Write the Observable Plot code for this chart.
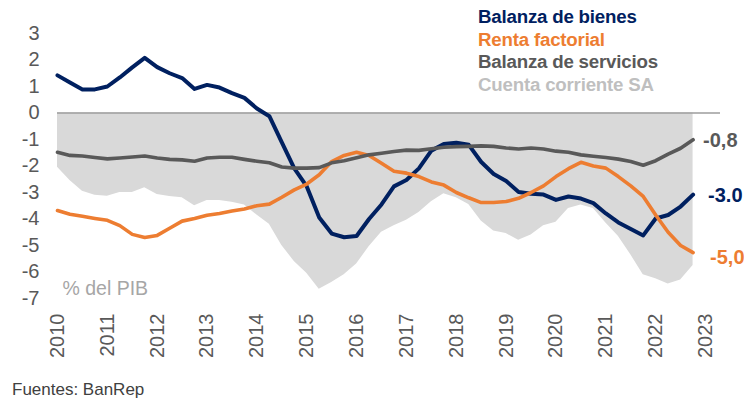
<!DOCTYPE html>
<html>
<head>
<meta charset="utf-8">
<script src="https://cdn.jsdelivr.net/npm/d3@7"></script>
<script src="https://cdn.jsdelivr.net/npm/@observablehq/plot@0.6"></script>
<style>
  html, body { margin: 0; padding: 0; background: #fff; }
  #wrap { position: relative; width: 744px; height: 400px; overflow: hidden; font-family: "Liberation Sans", Arial, sans-serif; }
  #legend { position: absolute; left: 478px; top: 6px; font-weight: bold; font-size: 18.7px; line-height: 22.6px; letter-spacing: -0.2px; }
  #caption { position: absolute; left: 12px; top: 380px; font-size: 17px; color: #404040; }
  #chart { position: absolute; left: 0; top: 0; }
</style>
</head>
<body>
<div id="wrap">
  <div id="chart"></div>
  <div id="legend"></div>
  <div id="caption">Fuentes: BanRep</div>
</div>
<script>
// Quarterly data, 2010 Q1 – 2022 Q4 (% del PIB)
const startYear = 2010;
const yearTicks = [2010, 2011, 2012, 2013, 2014, 2015, 2016, 2017, 2018, 2019, 2020, 2021, 2022, 2023];
const yTicks = [3, 2, 1, 0, -1, -2, -3, -4, -5, -6, -7];

const seriesNames = ["Balanza de bienes", "Renta factorial", "Balanza de servicios", "Cuenta corriente SA"];
const seriesColors = ["#002060", "#ED7D31", "#595959", "#BFBFBF"];

const bienes = [1.42,1.15,0.89,0.89,1.0,1.34,1.72,2.08,1.73,1.5,
  1.32,0.91,1.06,0.96,0.75,0.57,0.17,-0.12,-1.11,-2.09,
  -2.77,-3.94,-4.55,-4.69,-4.64,-4.0,-3.45,-2.77,-2.53,-2.09,
  -1.42,-1.17,-1.12,-1.2,-1.85,-2.3,-2.57,-2.98,-3.05,-3.08,
  -3.28,-3.15,-3.23,-3.4,-3.79,-4.13,-4.38,-4.62,-3.98,-3.85,
  -3.53,-3.08];
const renta = [-3.68,-3.82,-3.9,-3.98,-4.05,-4.25,-4.58,-4.7,-4.62,-4.35,
  -4.08,-3.98,-3.86,-3.79,-3.7,-3.62,-3.5,-3.44,-3.18,-2.9,
  -2.68,-2.33,-1.83,-1.6,-1.48,-1.6,-1.9,-2.2,-2.27,-2.4,
  -2.6,-2.72,-3.0,-3.2,-3.38,-3.38,-3.34,-3.22,-3.0,-2.75,
  -2.4,-2.1,-1.86,-2.0,-2.08,-2.4,-2.75,-3.15,-3.85,-4.5,
  -5.0,-5.27];
const servicios = [-1.48,-1.6,-1.62,-1.68,-1.73,-1.7,-1.66,-1.62,-1.7,-1.75,
  -1.77,-1.82,-1.7,-1.67,-1.67,-1.75,-1.82,-1.88,-2.04,-2.08,
  -2.08,-2.06,-1.88,-1.8,-1.69,-1.58,-1.52,-1.45,-1.4,-1.41,
  -1.35,-1.29,-1.27,-1.26,-1.24,-1.26,-1.32,-1.36,-1.32,-1.36,
  -1.44,-1.48,-1.58,-1.63,-1.68,-1.74,-1.83,-1.97,-1.8,-1.55,
  -1.33,-1.01];
const cuenta = [-2.05,-2.55,-2.95,-3.1,-3.14,-3.0,-3.0,-2.82,-3.08,-3.15,
  -3.2,-3.5,-3.3,-3.3,-3.37,-3.47,-3.85,-4.2,-5.0,-5.6,
  -6.05,-6.65,-6.4,-6.1,-5.7,-5.05,-4.5,-4.25,-4.05,-3.75,
  -3.35,-3.05,-3.2,-3.45,-4.08,-4.45,-4.55,-4.8,-4.6,-4.25,
  -4.12,-3.6,-3.47,-3.6,-4.15,-4.65,-5.35,-6.1,-6.25,-6.45,
  -6.3,-5.75];

const endLabels = ["-3.0", "-5,0", "-0,8"];

const toRows = (vals) => vals.map((v, i) => ({x: startYear + i / 4, y: v}));
const rowsB = toRows(bienes), rowsR = toRows(renta), rowsS = toRows(servicios), rowsC = toRows(cuenta);
const lastRows = [
  {...rowsB[rowsB.length - 1], label: endLabels[0], color: seriesColors[0], dx: 15, dy: 1},
  {...rowsR[rowsR.length - 1], label: endLabels[1], color: seriesColors[1], dx: 17, dy: 5},
  {...rowsS[rowsS.length - 1], label: endLabels[2], color: seriesColors[2], dx: 10, dy: 1}
];

const plot = Plot.plot({
  width: 744,
  height: 370,
  marginLeft: 57,
  marginRight: 24,
  marginTop: 33,
  marginBottom: 72,
  style: {fontFamily: "Liberation Sans, Arial, sans-serif", background: "transparent", overflow: "visible"},
  x: {domain: [2010, 2023.3], label: null},
  y: {domain: [-7, 3], label: null},
  marks: [
    Plot.areaY(rowsC, {x: "x", y1: 0, y2: "y", fill: "#D9D9D9"}),
    Plot.ruleY([0], {stroke: "#9C9C9C", strokeWidth: 1.6}),
    Plot.lineY(rowsB, {x: "x", y: "y", stroke: seriesColors[0], strokeWidth: 4, strokeLinejoin: "round"}),
    Plot.lineY(rowsR, {x: "x", y: "y", stroke: seriesColors[1], strokeWidth: 3.6, strokeLinejoin: "round"}),
    Plot.lineY(rowsS, {x: "x", y: "y", stroke: seriesColors[2], strokeWidth: 3.6, strokeLinejoin: "round"}),
    ...lastRows.map(d => Plot.text([d], {x: "x", y: "y", text: "label", fill: d.color, dx: d.dx, dy: d.dy,
      textAnchor: "start", fontWeight: "bold", fontSize: 20})),
    Plot.text(["% del PIB"], {frameAnchor: "bottom-left", dx: 5, dy: -4, fill: "#A6A6A6", fontSize: 19.5, textAnchor: "start", lineAnchor: "bottom"}),
    Plot.axisY({ticks: yTicks, tickSize: 0, tickPadding: 18, fontSize: 20, color: "#595959", tickFormat: d => String(d), label: null}),
    Plot.axisX({ticks: yearTicks, tickSize: 0, tickPadding: 15, tickRotate: -90, fontSize: 20, color: "#595959", tickFormat: d => String(d), label: null})
  ]
});
document.getElementById("chart").appendChild(plot);

const legend = document.getElementById("legend");
seriesNames.forEach((name, i) => {
  const div = document.createElement("div");
  div.textContent = name;
  div.style.color = seriesColors[i];
  legend.appendChild(div);
});
</script>
</body>
</html>
